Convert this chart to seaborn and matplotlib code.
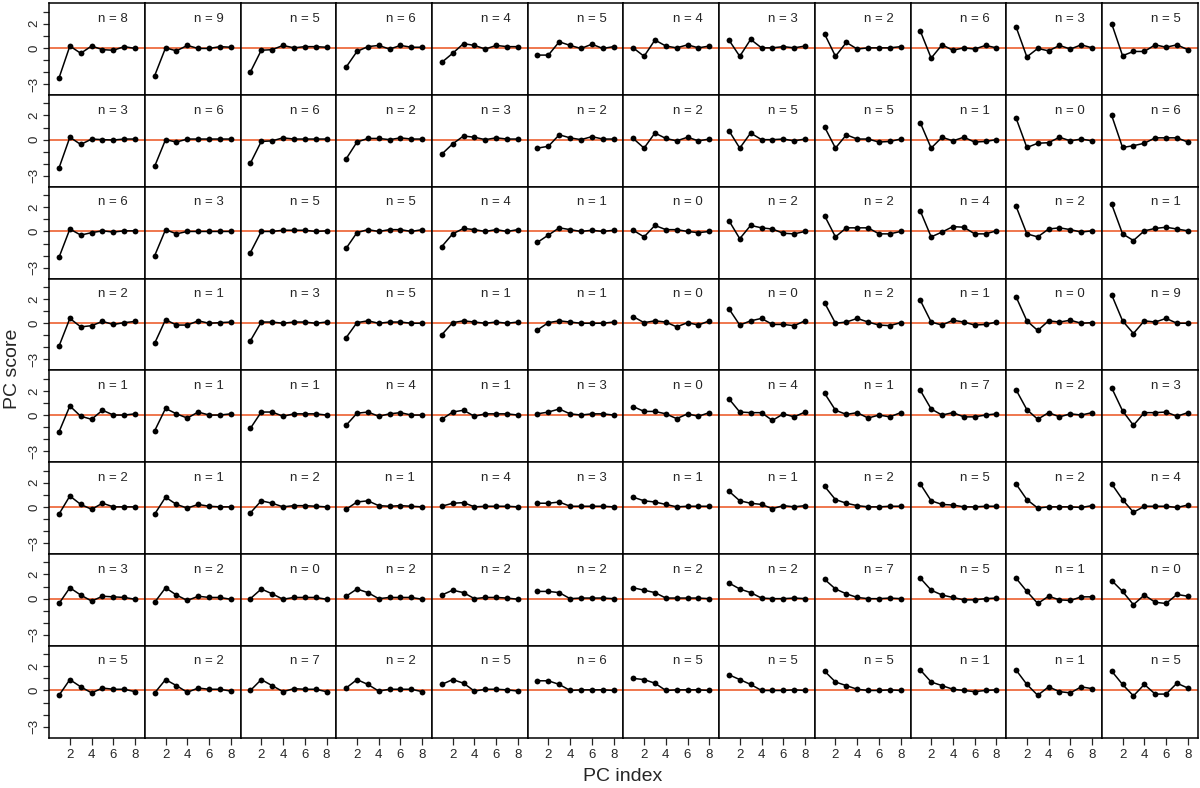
import matplotlib

matplotlib.use("Agg")

import matplotlib.pyplot as plt
import seaborn as sns

# x positions shared by every panel
PC_INDEX = [1, 2, 3, 4, 5, 6, 7, 8]

# number of members per panel (8 rows x 12 columns)
N_COUNTS = [
    [8, 9, 5, 6, 4, 5, 4, 3, 2, 6, 3, 5],
    [3, 6, 6, 2, 3, 2, 2, 5, 5, 1, 0, 6],
    [6, 3, 5, 5, 4, 1, 0, 2, 2, 4, 2, 1],
    [2, 1, 3, 5, 1, 1, 0, 0, 2, 1, 0, 9],
    [1, 1, 1, 4, 1, 3, 0, 4, 1, 7, 2, 3],
    [2, 1, 2, 1, 4, 3, 1, 1, 2, 5, 2, 4],
    [3, 2, 0, 2, 2, 2, 2, 2, 7, 5, 1, 0],
    [5, 2, 7, 2, 5, 6, 5, 5, 5, 1, 1, 5],
]

# PC scores, one list of 8 values per panel
ROW_1 = [
    [-2.5, 0.15, -0.45, 0.15, -0.15, -0.2, 0.1, -0.05],
    [-2.3, 0.0, -0.25, 0.2, -0.05, -0.05, 0.1, 0.05],
    [-2.0, -0.2, -0.15, 0.2, 0.0, 0.1, 0.1, 0.05],
    [-1.6, -0.3, 0.1, 0.2, -0.1, 0.2, 0.05, 0.05],
    [-1.2, -0.45, 0.35, 0.2, -0.1, 0.2, 0.1, 0.1],
    [-0.6, -0.6, 0.5, 0.2, -0.05, 0.3, -0.05, 0.1],
    [0.0, -0.7, 0.65, 0.15, 0.0, 0.25, 0.0, 0.15],
    [0.65, -0.7, 0.7, 0.0, 0.0, 0.1, 0.0, 0.15],
    [1.15, -0.7, 0.45, -0.1, 0.0, 0.0, 0.0, 0.1],
    [1.4, -0.85, 0.25, -0.2, 0.0, -0.1, 0.2, 0.0],
    [1.75, -0.75, -0.05, -0.25, 0.2, -0.1, 0.25, 0.0],
    [2.0, -0.65, -0.3, -0.3, 0.25, 0.05, 0.25, -0.15],
]
ROW_2 = [
    [-2.35, 0.2, -0.4, 0.05, 0.0, -0.03, 0.05, 0.05],
    [-2.2, 0.0, -0.2, 0.05, 0.05, 0.05, 0.05, 0.05],
    [-1.95, -0.15, -0.1, 0.15, 0.05, 0.05, 0.05, 0.05],
    [-1.6, -0.2, 0.1, 0.1, 0.0, 0.15, 0.05, 0.05],
    [-1.2, -0.35, 0.3, 0.2, 0.0, 0.15, 0.05, 0.05],
    [-0.7, -0.55, 0.4, 0.15, 0.0, 0.25, 0.05, 0.05],
    [0.1, -0.7, 0.55, 0.1, -0.1, 0.2, -0.1, 0.05],
    [0.75, -0.7, 0.55, 0.0, 0.0, 0.05, -0.1, 0.05],
    [1.05, -0.7, 0.4, 0.05, 0.05, -0.2, -0.15, 0.05],
    [1.4, -0.7, 0.2, -0.1, 0.2, -0.2, -0.15, 0.0],
    [1.8, -0.65, -0.3, -0.25, 0.2, -0.1, 0.05, -0.1],
    [2.0, -0.65, -0.5, -0.3, 0.15, 0.15, 0.15, -0.2],
]
ROW_3 = [
    [-2.15, 0.2, -0.3, -0.1, 0.05, -0.05, 0.05, 0.05],
    [-2.0, 0.15, -0.2, 0.0, 0.0, 0.0, 0.0, 0.0],
    [-1.75, 0.0, 0.0, 0.1, 0.1, 0.1, 0.0, 0.05],
    [-1.4, -0.1, 0.15, 0.0, 0.15, 0.15, 0.0, 0.15],
    [-1.25, -0.2, 0.25, 0.15, 0.0, 0.15, 0.0, 0.15],
    [-0.9, -0.3, 0.3, 0.15, 0.0, 0.1, 0.0, 0.1],
    [0.1, -0.45, 0.5, 0.15, 0.15, 0.0, -0.1, 0.0],
    [0.9, -0.6, 0.5, 0.3, 0.2, -0.15, -0.2, 0.0],
    [1.3, -0.45, 0.3, 0.3, 0.3, -0.2, -0.2, 0.0],
    [1.7, -0.45, -0.05, 0.4, 0.35, -0.2, -0.2, 0.05],
    [2.1, -0.2, -0.45, 0.2, 0.3, 0.15, -0.05, 0.05],
    [2.25, -0.2, -0.75, 0.05, 0.25, 0.35, 0.2, 0.05],
]
ROW_4 = [
    [-1.9, 0.4, -0.3, -0.2, 0.15, -0.1, 0.05, 0.15],
    [-1.65, 0.3, -0.15, -0.15, 0.2, 0.0, 0.05, 0.1],
    [-1.45, 0.1, 0.1, 0.0, 0.1, 0.1, 0.0, 0.1],
    [-1.2, 0.05, 0.2, 0.0, 0.1, 0.1, 0.0, 0.0],
    [-0.95, 0.05, 0.2, 0.1, 0.0, 0.1, 0.0, 0.1],
    [-0.55, 0.05, 0.2, 0.1, 0.0, 0.0, 0.0, 0.1],
    [0.55, 0.05, 0.2, 0.1, -0.3, 0.05, -0.15, 0.2],
    [1.2, -0.15, 0.2, 0.4, -0.1, -0.1, -0.2, 0.2],
    [1.7, 0.0, 0.1, 0.4, 0.1, -0.15, -0.2, 0.05],
    [1.9, 0.1, -0.15, 0.25, 0.1, -0.15, -0.1, 0.1],
    [2.2, 0.2, -0.6, 0.2, 0.1, 0.25, 0.0, 0.05],
    [2.35, 0.2, -0.85, 0.2, 0.1, 0.4, 0.0, 0.0],
]
ROW_5 = [
    [-1.4, 0.75, -0.1, -0.35, 0.4, 0.0, 0.0, 0.1],
    [-1.3, 0.55, 0.1, -0.25, 0.25, 0.0, 0.0, 0.1],
    [-1.1, 0.25, 0.25, -0.1, 0.1, 0.1, 0.1, 0.0],
    [-0.85, 0.15, 0.25, -0.1, 0.1, 0.2, 0.0, 0.0],
    [-0.35, 0.25, 0.4, -0.1, 0.1, 0.1, 0.1, 0.0],
    [0.1, 0.25, 0.5, 0.1, 0.0, 0.1, 0.1, 0.0],
    [0.7, 0.3, 0.3, 0.1, -0.3, 0.1, -0.1, 0.2],
    [1.35, 0.25, 0.2, 0.2, -0.45, 0.1, -0.15, 0.25],
    [1.8, 0.4, 0.05, 0.2, -0.25, 0.0, -0.15, 0.2],
    [2.05, 0.5, 0.0, 0.2, -0.15, -0.15, 0.0, 0.1],
    [2.1, 0.45, -0.35, 0.2, -0.15, 0.1, 0.0, 0.2],
    [2.25, 0.35, -0.85, 0.2, 0.2, 0.25, -0.1, 0.2],
]
ROW_6 = [
    [-0.6, 0.9, 0.2, -0.2, 0.3, 0.0, 0.0, 0.0],
    [-0.6, 0.8, 0.2, -0.1, 0.2, 0.05, 0.0, 0.0],
    [-0.5, 0.5, 0.3, 0.0, 0.1, 0.1, 0.05, 0.0],
    [-0.2, 0.4, 0.5, 0.1, 0.05, 0.1, 0.05, 0.0],
    [0.05, 0.3, 0.35, 0.0, 0.05, 0.05, 0.05, 0.0],
    [0.3, 0.3, 0.4, 0.05, 0.05, 0.05, 0.05, 0.0],
    [0.8, 0.5, 0.4, 0.2, 0.0, 0.05, 0.05, 0.05],
    [1.3, 0.5, 0.3, 0.2, -0.15, 0.1, 0.0, 0.1],
    [1.7, 0.6, 0.3, 0.1, 0.0, 0.0, 0.05, 0.05],
    [1.9, 0.5, 0.2, 0.15, 0.0, 0.0, 0.05, 0.05],
    [1.9, 0.6, -0.1, 0.0, 0.0, 0.0, -0.05, 0.1],
    [1.9, 0.6, -0.45, 0.05, 0.05, 0.05, -0.05, 0.15],
]
ROW_7 = [
    [-0.4, 0.9, 0.3, -0.2, 0.2, 0.15, 0.1, -0.05],
    [-0.3, 0.9, 0.3, -0.15, 0.2, 0.1, 0.1, -0.05],
    [0.0, 0.8, 0.4, -0.05, 0.1, 0.1, 0.1, -0.05],
    [0.2, 0.8, 0.5, 0.0, 0.1, 0.1, 0.1, -0.05],
    [0.3, 0.7, 0.5, 0.0, 0.1, 0.1, 0.05, -0.05],
    [0.6, 0.6, 0.5, 0.0, 0.05, 0.05, 0.05, 0.0],
    [0.9, 0.7, 0.5, 0.05, 0.05, 0.05, 0.05, 0.0],
    [1.3, 0.8, 0.5, 0.05, 0.0, 0.0, 0.05, 0.0],
    [1.6, 0.8, 0.4, 0.1, 0.0, 0.0, 0.05, 0.0],
    [1.7, 0.7, 0.3, 0.1, -0.1, -0.1, 0.0, 0.05],
    [1.7, 0.6, -0.4, 0.2, -0.1, -0.15, 0.15, 0.15],
    [1.5, 0.6, -0.5, 0.3, -0.3, -0.4, 0.35, 0.2],
]
ROW_8 = [
    [-0.4, 0.9, 0.3, -0.2, 0.2, 0.1, 0.1, -0.1],
    [-0.2, 0.9, 0.4, -0.15, 0.2, 0.1, 0.1, -0.05],
    [0.0, 0.9, 0.4, -0.1, 0.15, 0.1, 0.1, -0.1],
    [0.2, 0.9, 0.5, -0.05, 0.1, 0.1, 0.1, -0.1],
    [0.5, 0.9, 0.6, -0.05, 0.1, 0.1, 0.05, -0.05],
    [0.8, 0.8, 0.5, 0.0, 0.05, 0.05, 0.05, 0.0],
    [1.0, 0.9, 0.6, 0.0, 0.05, 0.05, 0.05, 0.0],
    [1.3, 0.9, 0.5, 0.0, 0.0, 0.0, 0.05, 0.0],
    [1.6, 0.7, 0.4, 0.1, 0.0, 0.0, 0.05, 0.0],
    [1.7, 0.7, 0.4, 0.1, 0.0, -0.1, 0.0, 0.05],
    [1.7, 0.5, -0.4, 0.3, -0.1, -0.2, 0.3, 0.15],
    [1.6, 0.5, -0.45, 0.5, -0.3, -0.3, 0.6, 0.2],
]
ROWS = [ROW_1, ROW_2, ROW_3, ROW_4, ROW_5, ROW_6, ROW_7, ROW_8]

Y_TICKS = [-3, -2, -1, 0, 1, 2, 3]
Y_TICK_LABELS = ["\u22123", "", "", "0", "", "2", ""]
X_TICKS = [2, 4, 6, 8]

sns.set_style("ticks")
plt.rcParams["font.family"] = ["Liberation Sans", "DejaVu Sans"]

n_rows, n_cols = len(ROWS), len(ROWS[0])
fig, axes = plt.subplots(n_rows, n_cols, figsize=(12, 7.88), dpi=100,
                         sharex=True, sharey=True)
fig.subplots_adjust(left=0.041, right=0.998, top=0.996, bottom=0.064,
                    wspace=0, hspace=0)

for r in range(n_rows):
    for c in range(n_cols):
        ax = axes[r, c]
        ax.axhline(0, color="#ec6030", linewidth=1.2, zorder=1)
        sns.lineplot(x=PC_INDEX, y=ROWS[r][c], ax=ax, color="black",
                     linewidth=1.1, marker="o", markersize=4.2,
                     markeredgewidth=0, estimator=None, zorder=3)
        ax.text(0.67, 0.83, f"n = {N_COUNTS[r][c]}", transform=ax.transAxes,
                ha="center", va="center", fontsize=9.5)
        for side in ax.spines.values():
            side.set_visible(True)
            side.set_linewidth(1.1)
            side.set_color("black")
        ax.tick_params(axis="both", length=0, labelsize=9.5)

ax0 = axes[0, 0]
ax0.set_xlim(0.1, 8.9)
ax0.set_ylim(-3.9, 3.7)
ax0.set_xticks(X_TICKS)
ax0.set_yticks(Y_TICKS)
ax0.set_yticklabels(Y_TICK_LABELS)

for r in range(n_rows):
    axes[r, 0].tick_params(axis="y", length=4.5, width=0.9, pad=2,
                           labelleft=True)
    for lab in axes[r, 0].get_yticklabels():
        lab.set_rotation(90)
        lab.set_va("center")
for c in range(n_cols):
    axes[-1, c].tick_params(axis="x", length=5, width=0.9, pad=3,
                            labelbottom=True)
for ax in axes.ravel():
    ax.set_ylabel("")
    ax.set_xlabel("")

fig.text(0.519, 0.014, "PC index", ha="center", va="center", fontsize=14)
fig.text(0.0105, 0.532, "PC score", ha="center", va="center", rotation=90,
         fontsize=14)

fig.savefig("out.png", dpi=100)
plt.close(fig)
